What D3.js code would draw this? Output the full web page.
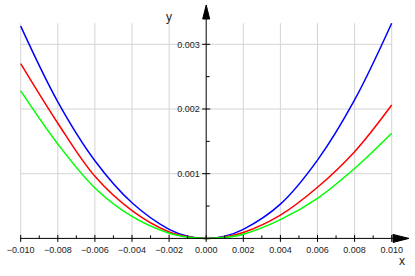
<!DOCTYPE html>
<html>
<meta charset="utf-8">
<title>Curves</title>
<style>
body { margin: 0; background: #fff; }
svg { font-family: "Liberation Sans", Arial, sans-serif; }
.grid line { stroke: #d4d4d4; stroke-width: 1px; }
.axis line, .axis path { stroke: #000; stroke-width: 1px; }
.tick-label { font-size: 9px; fill: #222; }
.curve { fill: none; stroke-width: 1.5px; }
</style>
<script src="https://d3js.org/d3.v7.min.js"></script>
<body>
<script>
// values
const xs    = [-0.010, -0.008, -0.006, -0.004, -0.002, -0.001, 0, 0.001, 0.002, 0.004, 0.006, 0.008, 0.010];
const blue  = [0.00328, 0.00211, 0.00120, 0.00055, 0.00014, 0.000035, 0, 0.000035, 0.00014, 0.00053, 0.00121, 0.00214, 0.003325];
const red   = [0.00270, 0.00178, 0.00096, 0.00043, 0.00010, 0.000025, 0, 0.00002, 0.00009, 0.00036, 0.00079, 0.00134, 0.002062];
const green = [0.00228, 0.00146, 0.00078, 0.00034, 0.00008, 0.00002, 0, 0.000016, 0.000065, 0.00029, 0.00062, 0.00108, 0.001624];
const xTicks = [-0.010, -0.008, -0.006, -0.004, -0.002, 0, 0.002, 0.004, 0.006, 0.008, 0.010];
const xMinor = [-0.009, -0.007, -0.005, -0.003, -0.001, 0.001, 0.003, 0.005, 0.007, 0.009];
const yTicks = [0.001, 0.002, 0.003];
const yMinor = [0.0005, 0.0015, 0.0025];

const series = [
  {values: blue, color: "#0000ff"},
  {values: red, color: "#ff0000"},
  {values: green, color: "#00ff00"},
];

const width = 415, height = 276;

const x = d3.scaleLinear().domain([-0.010, 0.010]).range([20.7, 391.7]);
const y = d3.scaleLinear().domain([0, 0.003]).range([238.4, 44.3]);
const yMax = d3.max(series, s => d3.max(s.values));
const plotTop = y(yMax);

const svg = d3.select("body").append("svg")
    .attr("width", width)
    .attr("height", height);

// grid
const grid = svg.append("g").attr("class", "grid");
grid.selectAll("line.v")
  .data(xTicks.filter(d => d !== 0))
  .join("line")
    .attr("class", "v")
    .attr("x1", d => x(d)).attr("x2", d => x(d))
    .attr("y1", plotTop).attr("y2", y(0));
grid.selectAll("line.h")
  .data(yTicks)
  .join("line")
    .attr("class", "h")
    .attr("x1", x(-0.010)).attr("x2", x(0.010))
    .attr("y1", d => y(d)).attr("y2", d => y(d));

// curves
const line = d3.line()
    .x((d, i) => x(xs[i]))
    .y(d => y(d))
    .curve(d3.curveCatmullRom);

svg.append("g").selectAll("path")
  .data(series)
  .join("path")
    .attr("class", "curve")
    .attr("stroke", d => d.color)
    .attr("d", d => line(d.values));

// x axis
const xa = svg.append("g").attr("class", "axis");
const y0 = y(0), x0 = x(0);
xa.append("line")
    .attr("x1", x(-0.010)).attr("x2", 394)
    .attr("y1", y0).attr("y2", y0);
xa.append("path")
    .attr("d", `M393,${y0 - 4}L409,${y0}L393,${y0 + 4}Z`)
    .attr("fill", "#000");
xa.selectAll("line.major")
  .data(xTicks)
  .join("line")
    .attr("class", "major")
    .attr("x1", d => x(d)).attr("x2", d => x(d))
    .attr("y1", y0 - 3.5).attr("y2", y0 + 3.5);
xa.selectAll("line.minor")
  .data(xMinor)
  .join("line")
    .attr("class", "minor")
    .attr("x1", d => x(d)).attr("x2", d => x(d))
    .attr("y1", y0 - 3).attr("y2", y0);
xa.selectAll("text")
  .data(xTicks)
  .join("text")
    .attr("class", "tick-label")
    .attr("x", d => x(d))
    .attr("y", y0 + 14.3)
    .attr("text-anchor", "middle")
    .text(d3.format(".3f"));
svg.append("text")
    .attr("x", 402).attr("y", 265)
    .attr("text-anchor", "middle")
    .attr("font-size", 12)
    .attr("fill", "#222")
    .text("x");

// y axis
const ya = svg.append("g").attr("class", "axis");
ya.append("line")
    .attr("x1", x0).attr("x2", x0)
    .attr("y1", y0).attr("y2", 18);
ya.append("path")
    .attr("d", `M${x0 - 3.5},19L${x0},5L${x0 + 3.5},19Z`)
    .attr("fill", "#000");
ya.selectAll("line.major")
  .data(yTicks)
  .join("line")
    .attr("class", "major")
    .attr("x1", x0 - 4).attr("x2", x0 + 4)
    .attr("y1", d => y(d)).attr("y2", d => y(d));
ya.selectAll("line.minor")
  .data(yMinor)
  .join("line")
    .attr("class", "minor")
    .attr("x1", x0).attr("x2", x0 + 3.5)
    .attr("y1", d => y(d)).attr("y2", d => y(d));
ya.selectAll("text")
  .data(yTicks)
  .join("text")
    .attr("class", "tick-label")
    .attr("x", x0 - 6.5)
    .attr("y", d => y(d) + 3.3)
    .attr("text-anchor", "end")
    .text(d3.format(".3f"));
svg.append("text")
    .attr("x", 169).attr("y", 21)
    .attr("text-anchor", "middle")
    .attr("font-size", 12)
    .attr("fill", "#222")
    .text("y");
</script>
</body>
</html>
